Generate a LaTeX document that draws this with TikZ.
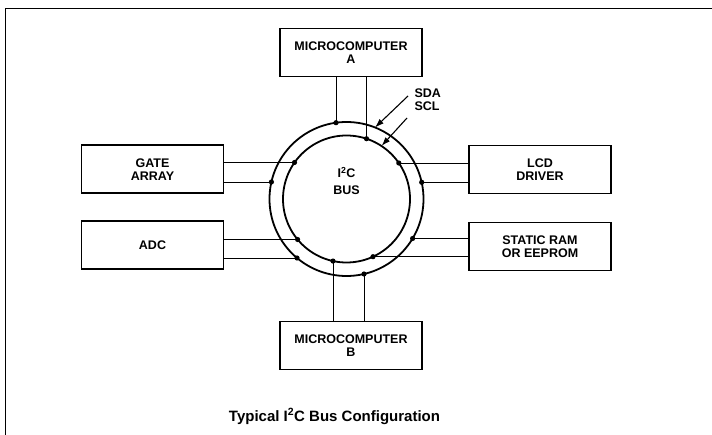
\documentclass[tikz,border=0pt]{standalone}
\usepackage{fontspec}
\setmainfont{Liberation Sans}
\usetikzlibrary{arrows.meta}
\newcommand\myLbl{\bfseries\fontsize{12.5}{13}\selectfont}
\begin{document}
\begin{tikzpicture}[x={(1pt,0pt)},y={(0pt,-1pt)},
  box/.style={draw, line width=1.4pt, minimum width=142pt, minimum height=48pt, align=center, inner sep=0pt, font=\myLbl},
  wire/.style={line width=0.9pt},
  busline/.style={line width=1.8pt},
  dot/.style={fill=black, draw=none},
  ptr/.style={line width=1.1pt, -{Latex[length=9pt,width=6pt]}},
  frame/.style={line width=1.1pt}]
\useasboundingbox (0,0) rectangle (712,435);
% frame
\coordinate (fb) at (5.5,435);
\coordinate (fc) at (5.5,8.5);
\coordinate (fr) at (712,8.5);
\draw[frame] (fb) -- (fc) -- (fr);
% boxes
\node[box] (mA) at (351,52.8) {MICROCOMPUTER\\A};
\node[box] (ga) at (152.5,169.2) {GATE\\ARRAY};
\node[box] (adc) at (152.5,245.2) {ADC};
\node[box] (lcd) at (540,169.7) {LCD\\DRIVER};
\node[box] (ram) at (540,246.3) {STATIC RAM\\OR EEPROM};
\node[box] (mB) at (351,345.5) {MICROCOMPUTER\\B};
% bus circles
\coordinate (c) at (346.5,199);
\draw[busline] (c) circle[radius=77pt];
\draw[busline] (c) circle[radius=63.5pt];
\node[font=\bfseries\fontsize{12.5}{17}\selectfont, align=center, anchor=base, inner sep=0pt] (bus) at (346.5,194.4) {I\textsuperscript{2}C\\BUS};
% tap points
\coordinate (oA) at (336,122.7);
\coordinate (iA) at (366.5,138.7);
\coordinate (iG) at (294.5,162.5);
\coordinate (oG) at (271.4,182);
\coordinate (iD) at (297.6,239.5);
\coordinate (oD) at (297.0,258);
\coordinate (iL) at (398.8,163);
\coordinate (oL) at (421.7,182.3);
\coordinate (oR) at (412.6,238.5);
\coordinate (iR) at (373.0,256.7);
\coordinate (iB) at (333,261.05);
\coordinate (oB) at (364,274);
% wires
\draw[wire] (oA |- mA.south) -- (oA);
\draw[wire] (iA |- mA.south) -- (iA);
\draw[wire] (iG -| ga.east) -- (iG);
\draw[wire] (oG -| ga.east) -- (oG);
\draw[wire] (iD -| adc.east) -- (iD);
\draw[wire] (oD -| adc.east) -- (oD);
\draw[wire] (iL -| lcd.west) -- (iL);
\draw[wire] (oL -| lcd.west) -- (oL);
\draw[wire] (oR -| ram.west) -- (oR);
\draw[wire] (iR -| ram.west) -- (iR);
\draw[wire] (iB |- mB.north) -- (iB);
\draw[wire] (oB |- mB.north) -- (oB);
% dots
\foreach \p in {oA,iA,iG,oG,iD,oD,iL,oL,oR,iR,iB,oB}
  \fill[dot] (\p) circle[radius=2.6pt];
% SDA / SCL
\node[font=\bfseries\fontsize{12.5}{13.7}\selectfont, align=left, anchor=west, inner sep=0pt] (sig) at (414.3,99.7) {SDA\\SCL};
\coordinate (sdaS) at (408,96);
\coordinate (sdaT) at (375,127.5);
\coordinate (sclS) at (407,118);
\coordinate (sclT) at (381.5,146);
\draw[ptr] (sdaS) -- (sdaT);
\draw[ptr] (sclS) -- (sclT);
% caption
\node[font=\bfseries\fontsize{15}{18}\selectfont, anchor=base, inner sep=0pt] (cap) at (334.5,421) {Typical I\textsuperscript{2}C Bus Configuration};
\end{tikzpicture}
\end{document}
